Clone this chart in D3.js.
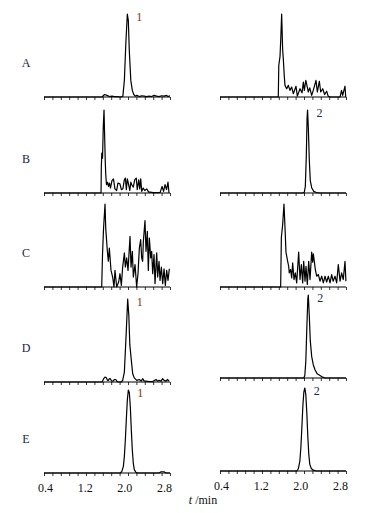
<!DOCTYPE html>
<html>
<head>
<meta charset="utf-8">
<script src="https://cdn.jsdelivr.net/npm/d3@7"></script>
<style>
  body { margin: 0; background: #fff; }
  text { font-family: "Liberation Serif", "DejaVu Serif", serif; }
</style>
</head>
<body>
<svg id="chrom"></svg>
<script>
// rows and tick labels
const rows = ["A", "B", "C", "D", "E"];
const tickLabels = [0.4, 1.2, 2.0, 2.8];
const minorTickCount = 15;

// traces, [t (min), relative intensity]
const leftA = [[0.38,0],[1.55,0],[1.6,3],[1.65,2],[1.7,0.5],[1.75,1],[1.8,0.5],[1.85,0.5],[1.93,0],[1.97,1],[2.0,20],[2.03,65],[2.06,100],[2.08,92],[2.1,55],[2.13,20],[2.16,8],[2.19,3],[2.22,1],[2.25,2],[2.3,0.5],[2.35,1.5],[2.4,1],[2.45,0.5],[2.5,1],[2.55,0.5],[2.6,2],[2.65,1],[2.7,0.5],[2.75,1.5],[2.8,1],[2.85,2],[2.88,0.5],[2.92,1.5]];
const rightA = [[0.38,0],[1.555,0],[1.565,38],[1.59,49],[1.605,70],[1.623,100],[1.643,57],[1.657,45],[1.677,24],[1.69,14],[1.724,10],[1.758,14],[1.79,8],[1.825,12],[1.858,4],[1.912,13],[1.939,1],[1.993,10],[2.033,5],[2.06,18],[2.08,8],[2.11,20],[2.14,12],[2.16,6],[2.19,11],[2.228,2],[2.26,8],[2.315,20],[2.342,6],[2.383,19],[2.41,6],[2.45,10],[2.49,3],[2.53,7],[2.56,1],[2.6,0],[2.8,0],[2.83,8],[2.853,2],[2.9,13],[2.914,0]];
const leftB = [[0.38,0],[1.53,0],[1.535,30],[1.545,48],[1.56,42],[1.575,80],[1.59,100],[1.6,75],[1.615,38],[1.625,22],[1.64,10],[1.66,13],[1.68,8],[1.7,12],[1.72,6],[1.75,15],[1.78,17],[1.81,5],[1.845,3],[1.87,12],[1.91,11],[1.94,4],[1.97,5],[2.0,16],[2.02,18],[2.04,4],[2.06,17],[2.08,12],[2.11,3],[2.13,13],[2.15,10],[2.18,7],[2.21,16],[2.24,18],[2.26,4],[2.29,16],[2.31,5],[2.33,17],[2.35,2],[2.38,6],[2.41,3],[2.45,5],[2.49,1],[2.52,1],[2.58,0.5],[2.65,0.5],[2.72,0.5],[2.76,8],[2.79,2],[2.82,10],[2.85,4],[2.88,13],[2.9,0]];
const rightB = [[0.38,0],[2.05,0],[2.08,1],[2.1,8],[2.12,45],[2.135,90],[2.145,100],[2.16,80],[2.18,40],[2.2,15],[2.23,6],[2.27,2],[2.32,0.5],[2.4,0],[2.92,0]];
const leftC = [[0.38,0],[1.543,0],[1.56,40],[1.58,70],[1.61,100],[1.625,70],[1.643,55],[1.657,43],[1.677,31],[1.697,47],[1.731,20],[1.764,12],[1.791,0],[1.811,20],[1.845,0],[1.885,6],[1.912,16],[1.939,2],[1.966,24],[2.0,41],[2.02,24],[2.047,35],[2.074,20],[2.114,61],[2.134,24],[2.161,43],[2.181,12],[2.215,27],[2.248,0],[2.275,16],[2.302,47],[2.329,57],[2.349,35],[2.369,31],[2.383,55],[2.416,80],[2.436,43],[2.463,67],[2.483,20],[2.504,59],[2.531,35],[2.551,43],[2.571,16],[2.598,39],[2.618,4],[2.652,41],[2.672,12],[2.699,31],[2.719,8],[2.746,24],[2.773,4],[2.8,22],[2.826,2],[2.853,20],[2.88,8],[2.907,22]];
const rightC = [[0.38,0],[1.603,0],[1.617,60],[1.643,75],[1.67,100],[1.69,72],[1.71,42],[1.737,33],[1.764,25],[1.777,17],[1.804,21],[1.825,11],[1.845,29],[1.872,9],[1.899,17],[1.926,5],[1.966,42],[1.993,9],[2.02,27],[2.047,5],[2.067,31],[2.094,7],[2.114,25],[2.14,3],[2.168,31],[2.195,9],[2.228,42],[2.248,30],[2.262,40],[2.302,21],[2.329,13],[2.363,15],[2.396,7],[2.43,13],[2.463,5],[2.497,13],[2.53,6],[2.564,13],[2.598,5],[2.631,15],[2.66,7],[2.698,13],[2.732,5],[2.765,27],[2.8,7],[2.832,17],[2.865,9],[2.9,31],[2.918,7]];
const leftD = [[0.38,0],[1.55,0],[1.583,4],[1.61,6],[1.637,5],[1.66,2],[1.677,2],[1.7,4],[1.717,4],[1.745,1],[1.771,1],[1.8,3],[1.825,3],[1.85,1],[1.872,0],[1.939,0],[1.966,2],[2.0,12],[2.034,55],[2.067,100],[2.09,80],[2.11,45],[2.134,30],[2.168,10],[2.2,5],[2.25,2],[2.302,3],[2.34,1],[2.369,4],[2.4,1],[2.436,1],[2.5,0.5],[2.57,0.5],[2.638,3],[2.67,1],[2.7,2],[2.74,1],[2.77,4],[2.8,2],[2.84,1],[2.87,3],[2.9,1]];
const rightD = [[0.38,0],[2.07,0],[2.09,3],[2.11,20],[2.13,60],[2.15,95],[2.16,100],[2.18,75],[2.2,45],[2.228,26],[2.26,16],[2.295,10],[2.34,5],[2.396,3],[2.45,1],[2.5,0],[2.92,0]];
const leftE = [[0.38,0],[1.92,0],[1.95,2],[1.98,8],[2.0,20],[2.02,40],[2.04,65],[2.06,88],[2.08,100],[2.1,97],[2.12,80],[2.14,52],[2.16,28],[2.18,12],[2.2,4],[2.23,1],[2.26,0],[2.7,0],[2.74,1.5],[2.8,1.5],[2.84,0],[2.92,0]];
const rightE = [[0.38,0],[1.93,0],[1.96,3],[1.99,12],[2.01,28],[2.03,52],[2.05,78],[2.07,95],[2.09,100],[2.11,92],[2.13,70],[2.15,42],[2.17,20],[2.19,8],[2.22,3],[2.26,1],[2.32,0],[2.92,0]];

const leftTraces = [leftA, leftB, leftC, leftD, leftE];
const rightTraces = [rightA, rightB, rightC, rightD, rightE];

// peak labels: [row index, side, text, peak time]
const peakLabels = [[0, "L", "1", 2.06], [3, "L", "1", 2.067], [4, "L", "1", 2.08], [1, "R", "2", 2.145], [3, "R", "2", 2.16], [4, "R", "2", 2.09]];

// layout
const W = 375, H = 513;
const panelH = 83;
const leftBase = [97, 193, 287, 382, 473];
const rightBase = [97, 193, 287, 378, 471];
const svg = d3.select("svg#chrom").attr("width", W).attr("height", H);

const domain = [0.38, 2.92];
const xLeft = d3.scaleLinear().domain(domain).range([44, 170]);
const xRight = d3.scaleLinear().domain(domain).range([220, 346]);
const minorTicks = d3.range(minorTickCount + 1).map((i) => domain[0] + (i * (domain[1] - domain[0])) / minorTickCount);

function drawPanel(x, base, trace, showLabels) {
	let y = d3.scaleLinear().domain([0, 100]).range([base, base - panelH]);
	let g = svg.append("g");

	// axis with short ticks pointing down
	let axis = d3.axisBottom(x).tickValues(minorTicks).tickSize(3).tickFormat("");
	let ax = g.append("g").attr("transform", `translate(0, ${base})`).call(axis);
	ax.select(".domain").attr("d", `M${x.range()[0]},0H${x.range()[1]}`).attr("stroke", "#000").attr("stroke-width", 1.2);
	ax.selectAll(".tick line").attr("stroke", "#000").attr("stroke-width", 0.8);

	if (showLabels) {
		let lab = d3.axisBottom(x).tickValues(tickLabels).tickSize(0).tickPadding(10).tickFormat(d3.format(".1f"));
		let la = g.append("g").attr("transform", `translate(0, ${base})`).call(lab);
		la.select(".domain").remove();
		la.selectAll("text")
			.attr("font-family", null)
			.attr("font-size", 12)
			.attr("fill", "#111");
		la.attr("font-family", null);
	}

	let line = d3.line().x((d) => x(d[0])).y((d) => y(d[1]));
	g.append("path")
		.datum(trace)
		.attr("d", line)
		.attr("fill", "none")
		.attr("stroke", "#000")
		.attr("stroke-width", 1.2)
		.attr("stroke-linejoin", "round");
}

rows.forEach((r, i) => {
	drawPanel(xLeft, leftBase[i], leftTraces[i], i === rows.length - 1);
	drawPanel(xRight, rightBase[i], rightTraces[i], i === rows.length - 1);
	svg.append("text")
		.attr("x", 26)
		.attr("y", leftBase[i] - 30)
		.attr("text-anchor", "middle")
		.attr("font-size", 12)
		.attr("fill", "#1c2348")
		.text(r);
});

peakLabels.forEach(([ri, side, txt, t]) => {
	let x = side === "L" ? xLeft : xRight;
	let base = side === "L" ? leftBase[ri] : rightBase[ri];
	svg.append("text")
		.attr("x", x(t) + 9)
		.attr("y", base - 76)
		.attr("font-size", 12)
		.attr("fill", side === "L" ? "#7a3410" : "#1f2a44")
		.text(txt);
});

// x-axis title
const title = svg.append("text")
	.attr("x", 203)
	.attr("y", 504)
	.attr("text-anchor", "middle")
	.attr("font-size", 12)
	.attr("fill", "#111");
title.append("tspan").attr("font-style", "italic").text("t");
title.append("tspan").text(" /min");
</script>
</body>
</html>
